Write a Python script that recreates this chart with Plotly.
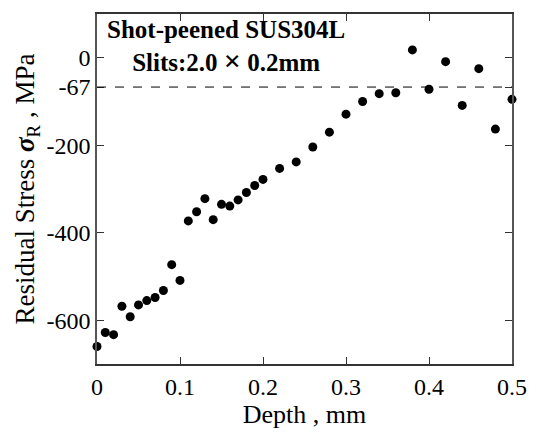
import plotly.graph_objects as go

depth_mm = [0.00, 0.01, 0.02, 0.03, 0.04, 0.05, 0.06, 0.07, 0.08, 0.09, 0.10,
            0.11, 0.12, 0.13, 0.14, 0.15, 0.16, 0.17, 0.18, 0.19, 0.20,
            0.22, 0.24, 0.26, 0.28, 0.30, 0.32, 0.34, 0.36, 0.38, 0.40,
            0.42, 0.44, 0.46, 0.48, 0.50]
stress_mpa = [-660, -628, -633, -568, -592, -565, -555, -548, -532, -473, -509,
              -373, -352, -322, -370, -335, -339, -325, -308, -292, -278,
              -253, -238, -204, -170, -129, -100, -82, -80, 18, -72,
              -9, -109, -25, -163, -95]

ref_level = -67
y_tickvals = [0, -67, -200, -400, -600]
y_ticktext = ["0", "-67", "-200", "-400", "-600"]
x_tickvals = [0, 0.1, 0.2, 0.3, 0.4, 0.5]
x_ticktext = ["0", "0.1", "0.2", "0.3", "0.4", "0.5"]

FONT = "Liberation Serif, Times New Roman, serif"

fig = go.Figure()
fig.add_trace(go.Scatter(
    x=depth_mm, y=stress_mpa, mode="markers",
    marker=dict(color="black", size=9),
    cliponaxis=False, showlegend=False,
))

fig.add_shape(type="line", xref="paper", yref="y", x0=0, x1=1,
              y0=ref_level, y1=ref_level,
              line=dict(color="black", width=1, dash="dash"))

fig.add_annotation(
    xref="paper", yref="paper", x=0.31, y=1.0, xanchor="center", yanchor="top",
    text="<b>Shot-peened SUS304L</b><br><b>Slits:2.0 <span style='font-size:30px'>×</span> 0.2mm</b>",
    showarrow=False, align="center",
    font=dict(family=FONT, size=25, color="black"),
)

fig.update_layout(
    width=539, height=432,
    margin=dict(l=97, r=24, t=12, b=53),
    paper_bgcolor="white", plot_bgcolor="white",
    font=dict(family=FONT, size=24, color="black"),
    xaxis=dict(
        range=[0, 0.5], tickvals=x_tickvals, ticktext=x_ticktext,
        ticks="inside", ticklen=7, tickcolor="#333", mirror="ticks",
        showline=True, linecolor="#333", linewidth=1.5,
        showgrid=False, zeroline=False,
        title=dict(text="Depth , mm", standoff=2,
                   font=dict(family=FONT, size=26)),
    ),
    yaxis=dict(
        range=[-700, 100], tickvals=y_tickvals, ticktext=y_ticktext,
        ticks="inside", ticklen=7, tickcolor="#333", mirror="ticks",
        showline=True, linecolor="#555", linewidth=1.5,
        showgrid=False, zeroline=False,
        title=dict(text="Residual Stress <b><i>σ</i></b><sub>R</sub> , MPa\u00a0\u00a0", standoff=4,
                   font=dict(family=FONT, size=27)),
    ),
)

fig.write_html("out.html")
